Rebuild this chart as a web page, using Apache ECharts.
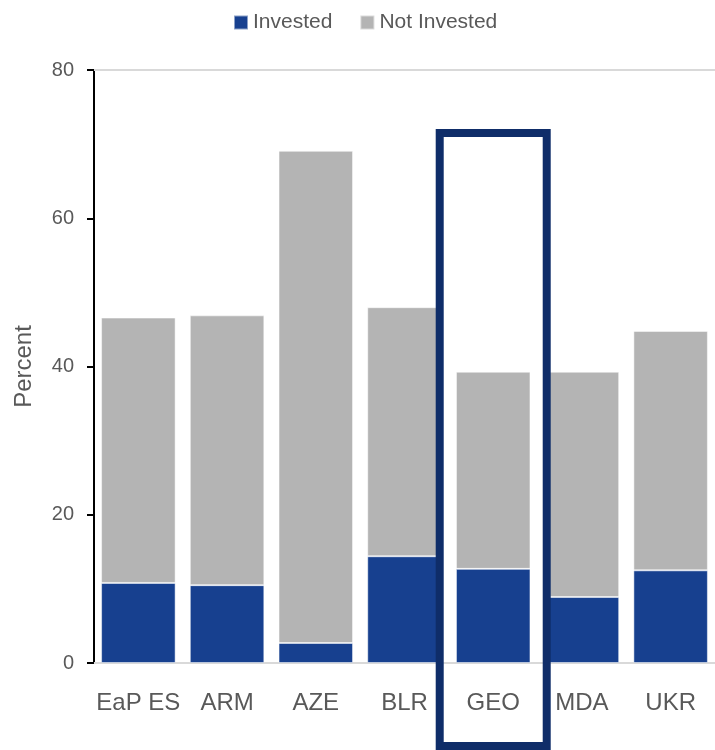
<!DOCTYPE html>
<html>
<head>
<meta charset="utf-8">
<script src="https://cdn.jsdelivr.net/npm/echarts@6/dist/echarts.min.js"></script>
<style>
  html, body { margin: 0; padding: 0; background: #fff; }
  #chart { width: 715px; height: 750px; }
</style>
</head>
<body>
<div id="chart"></div>
<script>
const categories = ['EaP ES', 'ARM', 'AZE', 'BLR', 'GEO', 'MDA', 'UKR']
const invested = [10.8, 10.5, 2.7, 14.4, 12.7, 8.9, 12.5]
const notInvested = [35.8, 36.4, 66.4, 33.6, 26.6, 30.4, 32.3]
const yTicks = [0, 20, 40, 60, 80]
const highlight = 'GEO'
const highlightTop = 71.5

const font = '"Liberation Sans", Arial, sans-serif'
const textColor = '#595959'

const myChart = echarts.init(document.getElementById('chart'), null, { renderer: 'canvas' })

const option = {
    animation: false,
    textStyle: { fontFamily: font },
    legend: {
        left: 228,
        top: 7,
        icon: 'rect',
        itemWidth: 14,
        itemHeight: 14,
        itemGap: 27,
        textStyle: { color: textColor, fontSize: 21, fontFamily: font },
        data: ['Invested', 'Not Invested']
    },
    grid: {
        left: 94,
        top: 70,
        width: 625,
        height: 593,
        containLabel: false
    },
    xAxis: [{
        type: 'category',
        data: categories,
        axisLine: { lineStyle: { color: '#d9d9d9', width: 2 } },
        axisTick: { show: false },
        axisLabel: { interval: 0, color: textColor, fontSize: 24, margin: 28, fontFamily: font }
    }, {
        // light line across the top of the plot
        type: 'category',
        position: 'top',
        data: categories,
        axisLine: { lineStyle: { color: '#d9d9d9', width: 2 } },
        axisTick: { show: false },
        axisLabel: { show: false }
    }],
    yAxis: {
        type: 'value',
        min: yTicks[0],
        max: yTicks[yTicks.length - 1],
        interval: 20,
        name: 'Percent',
        nameLocation: 'middle',
        nameGap: 58,
        nameTextStyle: { color: textColor, fontSize: 24, fontFamily: font },
        axisLine: { show: true, lineStyle: { color: '#000', width: 2 } },
        axisTick: { show: true, length: 7, lineStyle: { color: '#000', width: 2 } },
        axisLabel: { color: textColor, fontSize: 20, margin: 20, fontFamily: font },
        splitLine: { show: false }
    },
    series: [{
        name: 'Invested',
        type: 'bar',
        stack: 'total',
        barCategoryGap: '16%',
        itemStyle: { color: '#17408f', borderColor: 'rgba(255,255,255,0.5)', borderWidth: 1 },
        data: invested
    }, {
        name: 'Not Invested',
        type: 'bar',
        stack: 'total',
        barCategoryGap: '16%',
        itemStyle: { color: '#b4b4b4', borderColor: 'rgba(255,255,255,0.5)', borderWidth: 1 },
        data: notInvested
    }]
}

myChart.setOption(option)

// frame around the highlighted country, placed from the chart's own scales
const frameX = myChart.convertToPixel({ xAxisIndex: 0 }, highlight)
const frameTop = myChart.convertToPixel({ yAxisIndex: 0 }, highlightTop)
const half = 53.5
myChart.setOption({
    graphic: [{
        type: 'rect',
        shape: { x: frameX - half, y: frameTop, width: half * 2, height: 750 - frameTop - 4 },
        style: { fill: 'none', stroke: '#0f2d69', lineWidth: 8 },
        z: 100
    }]
})
</script>
</body>
</html>
